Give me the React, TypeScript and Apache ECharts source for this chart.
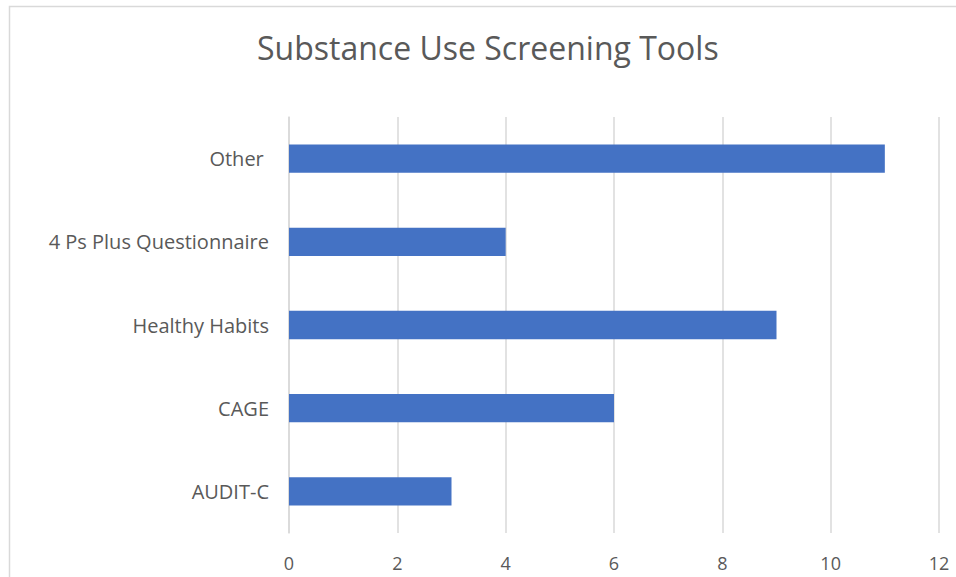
import React, { useEffect, useRef } from "react";
import * as echarts from "echarts";

const categories = ["AUDIT-C", "CAGE", "Healthy Habits", "4 Ps Plus Questionnaire", "Other "];
const values = [3, 6, 9, 4, 11];
const xMin = 0;
const xMax = 12;
const xInterval = 2;
const titleText = "Substance Use Screening Tools";

export default function App() {
  const ref = useRef<HTMLDivElement>(null);
  useEffect(() => {
    if (!ref.current) return;
    const chart = echarts.init(ref.current, null, { renderer: "svg" });
    const font = "'Open Sans', sans-serif";
    chart.setOption({
      animation: false,
      backgroundColor: "#ffffff",
      title: {
        text: titleText,
        left: 252,
        top: 26,
        textStyle: { fontFamily: font, fontSize: 32, fontWeight: "normal", color: "#595959" },
      },
      graphic: [
        {
          type: "rect",
          shape: { x: 9.5, y: 6.5, width: 1200, height: 1200 },
          style: { fill: "none", stroke: "#d9d9d9", lineWidth: 1.5 },
          silent: true,
        },
      ],
      grid: { left: 289, right: 17, top: 117, bottom: 44, containLabel: false },
      xAxis: {
        type: "value",
        min: xMin,
        max: xMax,
        interval: xInterval,
        axisLine: { show: false },
        axisTick: { show: false },
        splitLine: { show: true, lineStyle: { color: "#d9d9d9", width: 1.5 } },
        axisLabel: { fontFamily: font, fontSize: 18, color: "#595959", margin: 21 },
      },
      yAxis: {
        type: "category",
        data: categories,
        axisLine: { show: true, lineStyle: { color: "#d9d9d9", width: 1.5 } },
        axisTick: { show: false },
        axisLabel: { fontFamily: font, fontSize: 20, color: "#595959", margin: 20 },
      },
      series: [
        {
          type: "bar",
          data: values,
          barCategoryGap: "66%",
          itemStyle: { color: "#4472C4" },
        },
      ],
    });
    return () => chart.dispose();
  }, []);
  return <div ref={ref} style={{ position: "fixed", left: 0, top: 0, width: 956, height: 577 }} />;
}
